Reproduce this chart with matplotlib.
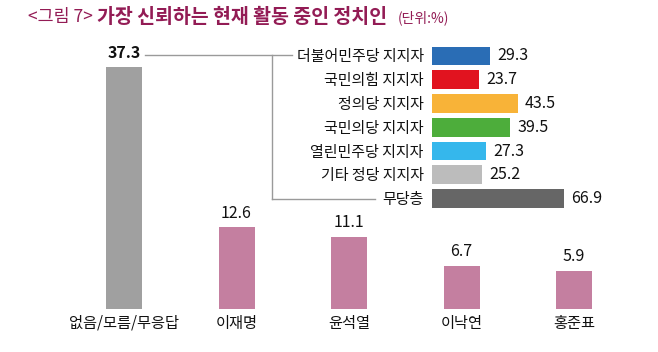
import matplotlib
matplotlib.use('Agg')
import matplotlib.pyplot as plt
from matplotlib.lines import Line2D

plt.rcParams['font.family'] = ['Noto Sans CJK KR', 'DejaVu Sans']

# main chart data
names = ['없음/모름/무응답', '이재명', '윤석열', '이낙연', '홍준표']
shares = [37.3, 12.6, 11.1, 6.7, 5.9]
main_colors = ['#a0a0a0', '#c47fa0', '#c47fa0', '#c47fa0', '#c47fa0']

# breakdown of '없음/모름/무응답' by party support
groups = ['더불어민주당 지지자', '국민의힘 지지자', '정의당 지지자', '국민의당 지지자',
          '열린민주당 지지자', '기타 정당 지지자', '무당층']
group_vals = [29.3, 23.7, 43.5, 39.5, 27.3, 25.2, 66.9]
group_colors = ['#2a6db5', '#e1131f', '#f8b338', '#4dad3b', '#35b7ec', '#bcbcbc', '#666666']

W, H = 658, 352
fig = plt.figure(figsize=(W / 100, H / 100), dpi=100)


def box(left, top, right, bottom):
    # pixel box -> figure fraction rect
    return [left / W, 1 - bottom / H, (right - left) / W, (bottom - top) / H]


# vertical bars
ax = fig.add_axes(box(67.75, 49.4, 630.25, 309))
x = range(len(names))
ax.bar(x, shares, width=0.32, color=main_colors)
ax.set_xlim(-0.5, 4.5)
ax.set_ylim(0, 40)
ax.axis('off')
for i, v in enumerate(shares):
    ax.annotate(f'{v}', (i, v), xytext=(0, 4), textcoords='offset points',
                ha='center', va='bottom', fontsize=11.5,
                fontweight='bold' if i == 0 else 'normal', color='#111111')
    ax.annotate(names[i], (i, 0), xytext=(0, -4), textcoords='offset points',
                ha='center', va='top', fontsize=11, color='#111111')

# inset horizontal bars
ax2 = fig.add_axes(box(432, 44.1, 570.6, 210.4))
y = range(len(groups))
ax2.barh(y, group_vals, height=0.78, color=group_colors)
ax2.set_xlim(0, 70)
ax2.set_ylim(6.5, -0.5)
for s in ax2.spines.values():
    s.set_visible(False)
ax2.set_xticks([])
ax2.set_yticks(list(y))
ax2.set_yticklabels(groups, fontsize=10.8, color='#111111')
ax2.tick_params(axis='y', length=0, pad=6)
ax2.patch.set_alpha(0)
for i, v in enumerate(group_vals):
    ax2.annotate(f'{v}', (v, i), xytext=(5, 0), textcoords='offset points',
                 ha='left', va='center', fontsize=11.5, color='#111111')

# bracket linking the first bar to the breakdown
def px(xp, yp):
    return xp / W, 1 - yp / H

for (x0, y0), (x1, y1) in [((145, 55), (292, 55)), ((272, 55), (272, 199)),
                           ((272, 199), (375, 199))]:
    a, b = px(x0, y0)
    c, d = px(x1, y1)
    fig.add_artist(Line2D([a, c], [b, d], color='#9a9a9a', lw=1))

# title
title_color = '#931c55'
fig.text(28 / W, 1 - 17 / H, '<그림 7>', fontsize=12.5, color=title_color, va='center')
fig.text(97 / W, 1 - 17 / H, '가장 신뢰하는 현재 활동 중인 정치인', fontsize=14,
         fontweight='bold', color=title_color, va='center')
fig.text(398 / W, 1 - 18 / H, '(단위:%)', fontsize=10, color=title_color, va='center')

fig.savefig('out.png', dpi=100)
